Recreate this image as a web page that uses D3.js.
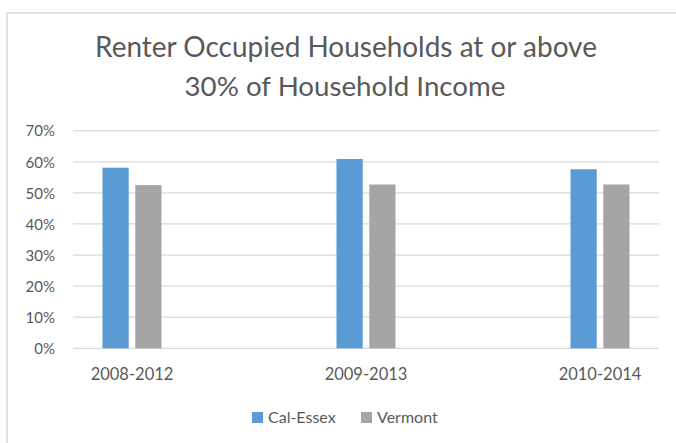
<!DOCTYPE html>
<html>
<head>
<meta charset="utf-8">
<script src="https://cdn.jsdelivr.net/npm/d3@7"></script>
<style>
  html, body { margin: 0; padding: 0; background: #fff; }
  svg { display: block; }
  text { font-family: "Lato", "Open Sans", sans-serif; fill: #595959; }
</style>
</head>
<body>
<svg id="chart" width="676" height="443"></svg>
<script>
const categories = ["2008-2012", "2009-2013", "2010-2014"];
const seriesNames = ["Cal-Essex", "Vermont"];
const calEssex = [0.581, 0.609, 0.576];
const vermont = [0.525, 0.527, 0.527];
const yTicks = [0, 0.1, 0.2, 0.3, 0.4, 0.5, 0.6, 0.7];
const colors = ["#5b9bd5", "#a5a5a5"];
const titleLines = ["Renter Occupied Households at or above", "30% of Household Income"];

const svg = d3.select("#chart");

// fit a text element's font size to a target width
function fitWidth(sel, base, w) {
  sel.style("font-size", base + "px");
  const len = sel.node().getComputedTextLength();
  sel.style("font-size", (base * w / len) + "px");
}

// chart frame
svg.append("rect")
  .attr("x", 7).attr("y", 13)
  .attr("width", 700).attr("height", 460)
  .attr("fill", "none").attr("stroke", "#e3e3e3").attr("stroke-width", 2);

// title
const titleSpecs = [{y: 57, w: 502, cx: 346}, {y: 96, w: 321, cx: 345}];
titleLines.forEach((t, i) => {
  const el = svg.append("text")
    .attr("x", titleSpecs[i].cx).attr("y", titleSpecs[i].y)
    .attr("text-anchor", "middle")
    .text(t);
  fitWidth(el, 26, titleSpecs[i].w);
});

const y = d3.scaleLinear().domain([0, 0.7]).range([348.3, 130.7]);
const x0 = d3.scaleBand().domain(categories).range([15, 717]).padding(0);
const x1 = d3.scaleBand().domain(seriesNames).range([-29.5, 29.5]).paddingInner(0.2);

const gridLeft = 73, gridRight = 659;

// gridlines
svg.append("g").selectAll("line").data(yTicks).join("line")
  .attr("x1", gridLeft).attr("x2", gridRight)
  .attr("y1", d => y(d)).attr("y2", d => y(d))
  .attr("stroke", "#d9d9d9").attr("stroke-width", 1.3);

// y axis labels
const yAxis = d3.axisLeft(y).tickValues(yTicks).tickFormat(d3.format(".0%")).tickSize(0).tickPadding(0);
const yg = svg.append("g").attr("transform", "translate(55,0)").call(yAxis);
yg.select(".domain").remove();
yg.selectAll("text").style("font-size", "15px").attr("fill", "#595959").attr("dy", "0.35em");

// bars
const series = [calEssex, vermont];
const groups = svg.append("g").selectAll("g").data(categories).join("g")
  .attr("transform", d => `translate(${x0(d) + x0.bandwidth() / 2},0)`);
groups.selectAll("rect")
  .data((d, i) => seriesNames.map((s, j) => ({s, v: series[j][i], c: colors[j]})))
  .join("rect")
  .attr("x", d => x1(d.s))
  .attr("width", x1.bandwidth())
  .attr("y", d => y(d.v))
  .attr("height", d => y(0) - y(d.v))
  .attr("fill", d => d.c);

// x axis labels
const xAxis = d3.axisBottom(x0).tickSize(0).tickPadding(0);
const xg = svg.append("g").attr("transform", `translate(0,${y(0)})`).call(xAxis);
xg.select(".domain").remove();
xg.selectAll("text").style("font-size", "16.5px").attr("fill", "#595959").attr("y", 32).attr("dy", 0);

// legend
const legendItems = [{x: 252, name: seriesNames[0], c: colors[0]}, {x: 361, name: seriesNames[1], c: colors[1]}];
const lg = svg.append("g").selectAll("g").data(legendItems).join("g")
  .attr("transform", d => `translate(${d.x},412)`);
lg.append("rect").attr("width", 11).attr("height", 11).attr("fill", d => d.c);
lg.append("text").attr("x", 16).attr("y", 11)
  .style("font-size", "16px").text(d => d.name);
</script>
</body>
</html>
